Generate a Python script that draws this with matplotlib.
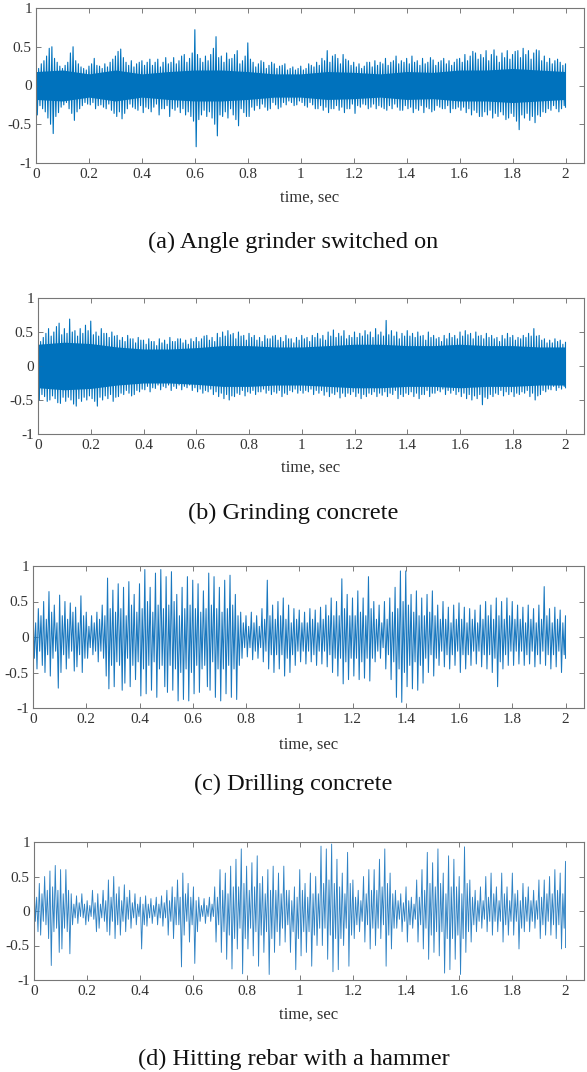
import matplotlib

matplotlib.use("Agg")

import matplotlib.pyplot as plt
import numpy as np

FIG_W, FIG_H = 587, 1072
BLUE = "#0072BD"

# peak values per 0.01 s bin (201 per trace)
a_upper = [
    0.30, 0.22, 0.28, 0.32, 0.38, 0.48, 0.50, 0.35, 0.30, 0.25,
    0.22, 0.26, 0.30, 0.42, 0.50, 0.32, 0.28, 0.24, 0.22, 0.20,
    0.25, 0.28, 0.35, 0.26, 0.25, 0.22, 0.28, 0.24, 0.30, 0.34,
    0.38, 0.44, 0.47, 0.36, 0.30, 0.26, 0.32, 0.24, 0.28, 0.30,
    0.32, 0.26, 0.30, 0.34, 0.26, 0.30, 0.34, 0.24, 0.30, 0.36,
    0.28, 0.30, 0.36, 0.28, 0.32, 0.38, 0.40, 0.30, 0.35, 0.42,
    0.72, 0.40, 0.35, 0.30, 0.38, 0.32, 0.40, 0.48, 0.63, 0.36,
    0.38, 0.30, 0.42, 0.34, 0.35, 0.40, 0.45, 0.28, 0.32, 0.38,
    0.55, 0.34, 0.30, 0.24, 0.28, 0.32, 0.30, 0.22, 0.26, 0.30,
    0.28, 0.22, 0.25, 0.26, 0.28, 0.20, 0.22, 0.24, 0.20, 0.22,
    0.25, 0.20, 0.22, 0.28, 0.26, 0.24, 0.30, 0.26, 0.35, 0.32,
    0.45, 0.30, 0.38, 0.40, 0.35, 0.28, 0.40, 0.34, 0.32, 0.26,
    0.30, 0.24, 0.28, 0.22, 0.25, 0.30, 0.30, 0.24, 0.32, 0.26,
    0.30, 0.28, 0.35, 0.26, 0.30, 0.32, 0.38, 0.28, 0.32, 0.30,
    0.35, 0.28, 0.38, 0.30, 0.32, 0.26, 0.35, 0.28, 0.30, 0.36,
    0.33, 0.26, 0.30, 0.32, 0.35, 0.28, 0.32, 0.26, 0.30, 0.34,
    0.35, 0.30, 0.40, 0.32, 0.38, 0.44, 0.42, 0.34, 0.40, 0.36,
    0.45, 0.32, 0.40, 0.46, 0.38, 0.30, 0.42, 0.36, 0.45, 0.34,
    0.40, 0.44, 0.45, 0.36, 0.48, 0.40, 0.45, 0.34, 0.42, 0.46,
    0.45, 0.32, 0.38, 0.30, 0.35, 0.28, 0.32, 0.34, 0.30, 0.26,
    0.28,
]
a_lower = [
    -0.38, -0.26, -0.30, -0.34, -0.42, -0.50, -0.62, -0.40, -0.35, -0.28,
    -0.25, -0.22, -0.30, -0.36, -0.45, -0.34, -0.30, -0.26, -0.22, -0.24,
    -0.25, -0.22, -0.30, -0.26, -0.25, -0.28, -0.30, -0.24, -0.32, -0.36,
    -0.40, -0.34, -0.43, -0.36, -0.30, -0.24, -0.28, -0.30, -0.32, -0.26,
    -0.35, -0.28, -0.30, -0.34, -0.28, -0.24, -0.38, -0.30, -0.30, -0.26,
    -0.40, -0.30, -0.32, -0.28, -0.35, -0.30, -0.38, -0.34, -0.40, -0.46,
    -0.79, -0.44, -0.38, -0.32, -0.40, -0.34, -0.42, -0.50, -0.65, -0.38,
    -0.40, -0.34, -0.42, -0.30, -0.38, -0.44, -0.52, -0.30, -0.35, -0.40,
    -0.40, -0.28, -0.32, -0.26, -0.30, -0.24, -0.28, -0.32, -0.30, -0.22,
    -0.25, -0.30, -0.28, -0.22, -0.25, -0.20, -0.22, -0.26, -0.25, -0.20,
    -0.22, -0.26, -0.28, -0.22, -0.25, -0.30, -0.30, -0.26, -0.32, -0.28,
    -0.35, -0.30, -0.30, -0.26, -0.32, -0.28, -0.35, -0.30, -0.30, -0.24,
    -0.36, -0.26, -0.28, -0.24, -0.25, -0.30, -0.28, -0.24, -0.30, -0.26,
    -0.28, -0.30, -0.32, -0.26, -0.30, -0.24, -0.28, -0.32, -0.32, -0.26,
    -0.30, -0.28, -0.35, -0.30, -0.32, -0.26, -0.35, -0.28, -0.30, -0.34,
    -0.32, -0.26, -0.28, -0.30, -0.30, -0.26, -0.35, -0.30, -0.30, -0.28,
    -0.32, -0.28, -0.35, -0.30, -0.38, -0.32, -0.35, -0.40, -0.40, -0.34,
    -0.38, -0.32, -0.42, -0.36, -0.40, -0.34, -0.38, -0.44, -0.42, -0.36,
    -0.40, -0.46, -0.57, -0.38, -0.42, -0.36, -0.45, -0.40, -0.48, -0.38,
    -0.40, -0.34, -0.35, -0.30, -0.32, -0.26, -0.30, -0.34, -0.30, -0.26,
    -0.28,
]

b_upper = [
    0.40, 0.36, 0.42, 0.48, 0.55, 0.44, 0.50, 0.58, 0.63, 0.46,
    0.55, 0.48, 0.69, 0.50, 0.52, 0.44, 0.55, 0.48, 0.60, 0.52,
    0.66, 0.46, 0.50, 0.44, 0.55, 0.48, 0.48, 0.42, 0.50, 0.44,
    0.45, 0.38, 0.42, 0.36, 0.45, 0.40, 0.40, 0.34, 0.42, 0.38,
    0.38, 0.32, 0.40, 0.36, 0.36, 0.30, 0.40, 0.34, 0.38, 0.32,
    0.42, 0.36, 0.36, 0.40, 0.40, 0.34, 0.38, 0.32, 0.40, 0.36,
    0.42, 0.36, 0.40, 0.44, 0.45, 0.38, 0.42, 0.36, 0.48, 0.42,
    0.50, 0.44, 0.52, 0.46, 0.48, 0.40, 0.50, 0.44, 0.45, 0.38,
    0.48, 0.42, 0.45, 0.38, 0.42, 0.36, 0.45, 0.40, 0.40, 0.44,
    0.45, 0.38, 0.42, 0.36, 0.45, 0.40, 0.40, 0.34, 0.42, 0.38,
    0.45, 0.40, 0.42, 0.36, 0.45, 0.42, 0.48, 0.40, 0.45, 0.38,
    0.50, 0.44, 0.53, 0.42, 0.48, 0.44, 0.52, 0.40, 0.45, 0.42,
    0.50, 0.42, 0.48, 0.44, 0.52, 0.46, 0.50, 0.42, 0.55, 0.46,
    0.50, 0.44, 0.67, 0.46, 0.52, 0.44, 0.50, 0.40, 0.48, 0.44,
    0.52, 0.44, 0.48, 0.42, 0.50, 0.44, 0.45, 0.38, 0.50, 0.42,
    0.45, 0.40, 0.42, 0.36, 0.45, 0.40, 0.48, 0.42, 0.45, 0.40,
    0.50, 0.44, 0.52, 0.46, 0.48, 0.40, 0.50, 0.44, 0.45, 0.40,
    0.48, 0.42, 0.45, 0.40, 0.42, 0.36, 0.45, 0.40, 0.48, 0.42,
    0.45, 0.38, 0.42, 0.40, 0.45, 0.42, 0.48, 0.44, 0.55, 0.44,
    0.45, 0.38, 0.40, 0.34, 0.38, 0.34, 0.40, 0.36, 0.38, 0.32,
    0.35,
]
b_lower = [
    -0.50, -0.42, -0.45, -0.52, -0.50, -0.44, -0.48, -0.54, -0.55, -0.46,
    -0.52, -0.46, -0.50, -0.56, -0.59, -0.48, -0.52, -0.46, -0.50, -0.44,
    -0.48, -0.52, -0.59, -0.46, -0.50, -0.44, -0.48, -0.42, -0.52, -0.46,
    -0.45, -0.40, -0.42, -0.36, -0.40, -0.44, -0.42, -0.36, -0.38, -0.34,
    -0.35, -0.30, -0.38, -0.32, -0.33, -0.28, -0.35, -0.30, -0.32, -0.28,
    -0.36, -0.30, -0.33, -0.28, -0.35, -0.30, -0.32, -0.28, -0.36, -0.32,
    -0.38, -0.34, -0.40, -0.36, -0.38, -0.34, -0.42, -0.38, -0.45, -0.40,
    -0.48, -0.42, -0.50, -0.44, -0.45, -0.40, -0.42, -0.36, -0.44, -0.38,
    -0.40, -0.36, -0.42, -0.38, -0.38, -0.34, -0.40, -0.36, -0.42, -0.38,
    -0.40, -0.36, -0.45, -0.40, -0.42, -0.36, -0.38, -0.34, -0.40, -0.36,
    -0.40, -0.36, -0.38, -0.34, -0.42, -0.36, -0.40, -0.36, -0.43, -0.38,
    -0.45, -0.40, -0.42, -0.38, -0.47, -0.40, -0.45, -0.40, -0.42, -0.38,
    -0.45, -0.40, -0.48, -0.42, -0.45, -0.40, -0.42, -0.38, -0.45, -0.40,
    -0.43, -0.38, -0.45, -0.40, -0.42, -0.36, -0.48, -0.42, -0.45, -0.40,
    -0.42, -0.38, -0.45, -0.40, -0.48, -0.42, -0.42, -0.36, -0.45, -0.40,
    -0.40, -0.36, -0.38, -0.34, -0.42, -0.36, -0.40, -0.36, -0.42, -0.38,
    -0.45, -0.40, -0.48, -0.42, -0.50, -0.44, -0.48, -0.42, -0.57, -0.46,
    -0.48, -0.42, -0.45, -0.40, -0.42, -0.36, -0.44, -0.38, -0.42, -0.38,
    -0.45, -0.40, -0.42, -0.38, -0.40, -0.36, -0.45, -0.40, -0.50, -0.44,
    -0.42, -0.36, -0.38, -0.34, -0.35, -0.30, -0.36, -0.32, -0.34, -0.30,
    -0.32,
]

c_upper = [
    0.45, 0.20, 0.40, 0.30, 0.50, 0.25, 0.64, 0.35, 0.45, 0.20,
    0.59, 0.30, 0.50, 0.25, 0.48, 0.35, 0.42, 0.20, 0.58, 0.30,
    0.35, 0.15, 0.30, 0.20, 0.35, 0.25, 0.45, 0.30, 0.83, 0.40,
    0.66, 0.35, 0.75, 0.40, 0.70, 0.30, 0.78, 0.45, 0.60, 0.35,
    0.75, 0.40, 0.95, 0.50, 0.70, 0.35, 0.90, 0.45, 0.95, 0.40,
    0.85, 0.45, 0.92, 0.50, 0.60, 0.30, 0.70, 0.40, 0.85, 0.45,
    0.80, 0.40, 0.75, 0.35, 0.65, 0.40, 0.90, 0.45, 0.85, 0.40,
    0.70, 0.35, 0.80, 0.40, 0.87, 0.45, 0.60, 0.30, 0.35, 0.20,
    0.30, 0.15, 0.35, 0.20, 0.30, 0.15, 0.40, 0.25, 0.80, 0.30,
    0.45, 0.25, 0.50, 0.30, 0.55, 0.25, 0.45, 0.20, 0.40, 0.25,
    0.38, 0.20, 0.35, 0.20, 0.40, 0.25, 0.38, 0.20, 0.42, 0.25,
    0.45, 0.30, 0.55, 0.30, 0.50, 0.30, 0.82, 0.40, 0.60, 0.30,
    0.55, 0.30, 0.65, 0.35, 0.55, 0.30, 0.85, 0.40, 0.50, 0.25,
    0.45, 0.20, 0.50, 0.25, 0.55, 0.35, 0.70, 0.40, 0.93, 0.50,
    0.93, 0.45, 0.60, 0.35, 0.65, 0.30, 0.55, 0.30, 0.60, 0.35,
    0.65, 0.30, 0.45, 0.25, 0.50, 0.25, 0.42, 0.20, 0.45, 0.25,
    0.48, 0.25, 0.42, 0.20, 0.40, 0.25, 0.38, 0.20, 0.45, 0.25,
    0.50, 0.30, 0.45, 0.25, 0.55, 0.30, 0.50, 0.25, 0.55, 0.30,
    0.50, 0.25, 0.45, 0.25, 0.42, 0.20, 0.45, 0.25, 0.40, 0.20,
    0.45, 0.25, 0.71, 0.30, 0.40, 0.20, 0.42, 0.25, 0.38, 0.20,
    0.30,
]
c_lower = [
    -0.30, -0.45, -0.20, -0.40, -0.50, -0.25, -0.55, -0.30, -0.20, -0.72,
    -0.50, -0.25, -0.45, -0.30, -0.20, -0.48, -0.42, -0.25, -0.50, -0.30,
    -0.30, -0.15, -0.25, -0.20, -0.35, -0.20, -0.30, -0.55, -0.73, -0.40,
    -0.70, -0.35, -0.40, -0.75, -0.65, -0.30, -0.70, -0.40, -0.60, -0.35,
    -0.83, -0.45, -0.80, -0.40, -0.75, -0.35, -0.85, -0.45, -0.40, -0.70,
    -0.78, -0.40, -0.75, -0.45, -0.90, -0.50, -0.88, -0.45, -0.90, -0.50,
    -0.80, -0.40, -0.78, -0.45, -0.40, -0.70, -0.75, -0.35, -0.85, -0.45,
    -0.90, -0.45, -0.80, -0.40, -0.85, -0.45, -0.88, -0.40, -0.30, -0.15,
    -0.28, -0.15, -0.32, -0.20, -0.30, -0.15, -0.35, -0.20, -0.45, -0.25,
    -0.50, -0.25, -0.45, -0.25, -0.55, -0.30, -0.50, -0.25, -0.40, -0.20,
    -0.35, -0.20, -0.38, -0.20, -0.35, -0.25, -0.40, -0.20, -0.38, -0.20,
    -0.42, -0.25, -0.50, -0.30, -0.55, -0.30, -0.66, -0.35, -0.60, -0.30,
    -0.55, -0.30, -0.60, -0.35, -0.58, -0.30, -0.62, -0.30, -0.35, -0.20,
    -0.30, -0.15, -0.45, -0.25, -0.60, -0.35, -0.85, -0.45, -0.92, -0.50,
    -0.70, -0.40, -0.73, -0.35, -0.75, -0.40, -0.65, -0.30, -0.50, -0.25,
    -0.55, -0.30, -0.40, -0.20, -0.42, -0.25, -0.45, -0.25, -0.40, -0.20,
    -0.50, -0.25, -0.45, -0.25, -0.40, -0.20, -0.38, -0.20, -0.42, -0.25,
    -0.45, -0.25, -0.50, -0.30, -0.70, -0.35, -0.45, -0.25, -0.40, -0.20,
    -0.40, -0.20, -0.38, -0.20, -0.40, -0.25, -0.38, -0.20, -0.42, -0.25,
    -0.38, -0.20, -0.40, -0.25, -0.45, -0.25, -0.42, -0.20, -0.50, -0.25,
    -0.30,
]

d_upper = [
    0.45, 0.20, 0.40, 0.25, 0.50, 0.30, 0.58, 0.35, 0.66, 0.30,
    0.60, 0.25, 0.60, 0.30, 0.25, 0.10, 0.22, 0.12, 0.25, 0.10,
    0.15, 0.08, 0.30, 0.12, 0.25, 0.10, 0.30, 0.15, 0.45, 0.20,
    0.50, 0.25, 0.35, 0.15, 0.38, 0.20, 0.30, 0.12, 0.25, 0.10,
    0.20, 0.10, 0.22, 0.10, 0.18, 0.08, 0.20, 0.10, 0.22, 0.12,
    0.30, 0.15, 0.35, 0.20, 0.45, 0.20, 0.55, 0.25, 0.40, 0.20,
    0.35, 0.15, 0.20, 0.08, 0.18, 0.08, 0.20, 0.10, 0.35, 0.20,
    0.60, 0.30, 0.55, 0.25, 0.65, 0.35, 0.75, 0.35, 0.90, 0.40,
    0.65, 0.30, 0.70, 0.35, 0.80, 0.40, 0.50, 0.25, 0.60, 0.30,
    0.65, 0.30, 0.55, 0.25, 0.65, 0.30, 0.30, 0.15, 0.35, 0.20,
    0.60, 0.30, 0.40, 0.20, 0.55, 0.25, 0.50, 0.25, 0.94, 0.40,
    0.90, 0.45, 0.97, 0.40, 0.75, 0.35, 0.55, 0.25, 0.85, 0.40,
    0.45, 0.20, 0.30, 0.15, 0.50, 0.25, 0.60, 0.30, 0.60, 0.30,
    0.75, 0.35, 0.90, 0.40, 0.55, 0.25, 0.30, 0.15, 0.25, 0.12,
    0.35, 0.15, 0.20, 0.10, 0.45, 0.20, 0.60, 0.30, 0.85, 0.40,
    0.70, 0.35, 0.90, 0.40, 0.55, 0.25, 0.80, 0.35, 0.75, 0.35,
    0.50, 0.25, 0.93, 0.40, 0.45, 0.20, 0.30, 0.15, 0.35, 0.15,
    0.50, 0.20, 0.55, 0.25, 0.35, 0.15, 0.55, 0.25, 0.35, 0.15,
    0.55, 0.25, 0.30, 0.15, 0.40, 0.20, 0.35, 0.15, 0.30, 0.15,
    0.45, 0.20, 0.45, 0.25, 0.50, 0.25, 0.60, 0.30, 0.55, 0.25,
    0.72,
]
d_lower = [
    -0.15, -0.30, -0.35, -0.15, -0.20, -0.40, -0.79, -0.30, -0.25, -0.60,
    -0.55, -0.25, -0.30, -0.62, -0.20, -0.10, -0.18, -0.08, -0.10, -0.20,
    -0.15, -0.08, -0.12, -0.30, -0.25, -0.10, -0.15, -0.30, -0.35, -0.15,
    -0.40, -0.20, -0.35, -0.15, -0.30, -0.12, -0.25, -0.10, -0.20, -0.08,
    -0.55, -0.20, -0.22, -0.10, -0.18, -0.08, -0.20, -0.10, -0.22, -0.10,
    -0.35, -0.15, -0.40, -0.20, -0.20, -0.81, -0.35, -0.15, -0.45, -0.20,
    -0.76, -0.30, -0.15, -0.08, -0.18, -0.08, -0.15, -0.08, -0.45, -0.20,
    -0.60, -0.30, -0.70, -0.35, -0.84, -0.40, -0.55, -0.25, -0.91, -0.40,
    -0.55, -0.25, -0.65, -0.30, -0.80, -0.35, -0.60, -0.30, -0.92, -0.40,
    -0.60, -0.30, -0.50, -0.25, -0.45, -0.20, -0.60, -0.30, -0.85, -0.40,
    -0.65, -0.30, -0.60, -0.30, -0.80, -0.35, -0.50, -0.25, -0.50, -0.25,
    -0.70, -0.35, -0.88, -0.40, -0.85, -0.40, -0.50, -0.25, -0.80, -0.35,
    -0.40, -0.20, -0.30, -0.15, -0.45, -0.20, -0.55, -0.25, -0.50, -0.25,
    -0.40, -0.20, -0.80, -0.35, -0.55, -0.25, -0.25, -0.12, -0.30, -0.15,
    -0.45, -0.20, -0.25, -0.12, -0.45, -0.20, -0.55, -0.25, -0.70, -0.35,
    -0.60, -0.30, -0.65, -0.30, -0.90, -0.40, -0.85, -0.40, -0.70, -0.35,
    -0.92, -0.40, -0.60, -0.30, -0.45, -0.20, -0.30, -0.15, -0.25, -0.12,
    -0.30, -0.15, -0.35, -0.15, -0.30, -0.15, -0.45, -0.20, -0.35, -0.15,
    -0.35, -0.15, -0.55, -0.25, -0.30, -0.15, -0.30, -0.15, -0.25, -0.12,
    -0.40, -0.20, -0.35, -0.15, -0.35, -0.20, -0.40, -0.20, -0.55, -0.25,
    -0.53,
]

# solid core of the dense recordings, per 0.1 s
a_core = [0.18, 0.20, 0.15, 0.20, 0.15, 0.18, 0.20, 0.20, 0.18, 0.15, 0.15,
          0.18, 0.17, 0.15, 0.18, 0.17, 0.20, 0.20, 0.22, 0.20, 0.18]
b_core = [0.32, 0.35, 0.33, 0.28, 0.25, 0.25, 0.27, 0.30, 0.30, 0.28, 0.28,
          0.30, 0.32, 0.32, 0.30, 0.30, 0.32, 0.30, 0.30, 0.28, 0.28]

captions = [
    "(a) Angle grinder switched on",
    "(b) Grinding concrete",
    "(c) Drilling concrete",
    "(d) Hitting rebar with a hammer",
]
x_ticks = [0, 0.2, 0.4, 0.6, 0.8, 1, 1.2, 1.4, 1.6, 1.8, 2]
x_tick_labels = ["0", "0.2", "0.4", "0.6", "0.8", "1", "1.2", "1.4", "1.6", "1.8", "2"]
y_ticks = [-1, -0.5, 0, 0.5, 1]
y_tick_labels = ["-1", "-0.5", "0", "0.5", "1"]

# pixel layout of each panel
PANELS = [
    dict(left=36, top=8, bottom=163, caption_y=242, label_y=198),
    dict(left=38, top=298, bottom=434, caption_y=513, label_y=468),
    dict(left=33, top=566, bottom=708, caption_y=784, label_y=745),
    dict(left=34, top=842, bottom=980, caption_y=1059, label_y=1015),
]
X_AT_2 = 565.5
X_MAX = 2.07

plt.rcParams["font.family"] = ["Liberation Serif", "DejaVu Serif"]
plt.rcParams["axes.unicode_minus"] = False


def zigzag(upper, lower):
    t = np.linspace(0, 2, len(upper))
    half = (t[1] - t[0]) / 2
    xs = np.empty(2 * len(t))
    ys = np.empty(2 * len(t))
    xs[0::2] = t
    xs[1::2] = np.minimum(t + half, 2.0)
    ys[0::2] = upper
    ys[1::2] = lower
    return xs, ys


def draw_panel(fig, spec, upper, lower, core, caption, style):
    left = spec["left"]
    right = left + (X_AT_2 - left) * X_MAX / 2
    ax = fig.add_axes([
        left / FIG_W,
        1 - spec["bottom"] / FIG_H,
        (right - left) / FIG_W,
        (spec["bottom"] - spec["top"]) / FIG_H,
    ])

    if core is not None:
        tc = np.linspace(0, 2, len(core))
        c = np.array(core)
        ax.fill_between(tc, -c, c, color=BLUE, linewidth=0)

    xs, ys = zigzag(upper, lower)
    ax.plot(xs, ys, **style)

    ax.set_xlim(0, X_MAX)
    ax.set_ylim(-1, 1)
    ax.set_xticks(x_ticks)
    ax.set_xticklabels(x_tick_labels)
    ax.set_yticks(y_ticks)
    ax.set_yticklabels(y_tick_labels)
    ax.tick_params(direction="in", length=3.5, width=0.6, colors="#666666",
                   labelcolor="#333333", labelsize=11, top=True, right=True)
    ax.tick_params(axis="x", pad=3.5)
    ax.tick_params(axis="y", pad=3)
    for spine in ax.spines.values():
        spine.set_color("#777777")
        spine.set_linewidth(0.8)

    fig.text((left + right) / 2 / FIG_W, 1 - spec["label_y"] / FIG_H, "time, sec",
             ha="center", va="center", fontsize=12, color="#333333")
    fig.text(0.5, 1 - spec["caption_y"] / FIG_H, caption,
             ha="center", va="center", fontsize=17.5, color="#111111")


def main() -> None:
    fig = plt.figure(figsize=(FIG_W / 100, FIG_H / 100), dpi=100)
    dense = dict(color=BLUE, linewidth=0.8)
    series = [
        (a_upper, a_lower, a_core, dense),
        (b_upper, b_lower, b_core, dense),
        (c_upper, c_lower, None, dict(color="#1a78bf", linewidth=0.75)),
        (d_upper, d_lower, None, dict(color="#2f82c4", linewidth=0.65)),
    ]
    for spec, (up, lo, core, style), caption in zip(PANELS, series, captions):
        draw_panel(fig, spec, up, lo, core, caption, style)
    fig.savefig("out.png", dpi=100)
    plt.close(fig)


if __name__ == "__main__":
    main()
